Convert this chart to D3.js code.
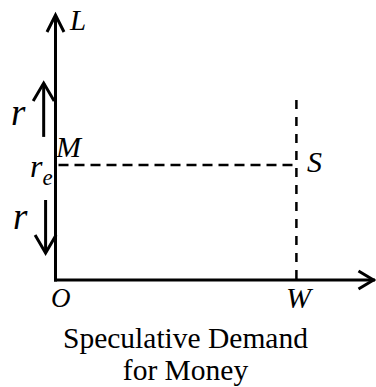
<!DOCTYPE html>
<html>
<head>
<meta charset="utf-8">
<script src="https://cdn.jsdelivr.net/npm/d3@7"></script>
<style>
  html, body { margin: 0; padding: 0; background: #fff; }
  svg { display: block; }
</style>
</head>
<body>
<svg id="chart" width="376" height="387"></svg>
<script>
// Speculative demand for money diagram

// levels in axis units (0..1 of each axis)
const wealthLevel = [0.754];        // W on the horizontal axis
const interestLevel = [0.434];      // r_e on the vertical axis
const dashTopLevel = [0.679];       // where the vertical dashed line stops
const rateArrows = [
  { x: -0.037, from: 0.54, to: 0.743 },   // r rising
  { x: -0.031, from: 0.302, to: 0.102 }   // r falling
];
const titleLines = ['Speculative Demand', 'for Money'];

const serif = "'Liberation Serif', 'DejaVu Serif', serif";

const svg = d3.select('#chart');

const xScale = d3.scaleLinear().domain([0, 1]).range([55.5, 375]);
const yScale = d3.scaleLinear().domain([0, 1]).range([280, 15]);

const ink = '#000';
const lineW = 3;

// axes
svg.append('line')
  .attr('x1', xScale(0)).attr('x2', xScale(0))
  .attr('y1', yScale(0) + 1.5).attr('y2', yScale(1))
  .attr('stroke', ink).attr('stroke-width', lineW);

svg.append('line')
  .attr('x1', xScale(0) - 1.5).attr('x2', xScale(1))
  .attr('y1', yScale(0)).attr('y2', yScale(0))
  .attr('stroke', ink).attr('stroke-width', lineW);

// open arrowheads
function chevron(tipX, tipY, dir, half, depth) {
  let d;
  if (dir === 'up') d = `M${tipX - half},${tipY + depth}L${tipX},${tipY}L${tipX + half},${tipY + depth}`;
  else if (dir === 'down') d = `M${tipX - half},${tipY - depth}L${tipX},${tipY}L${tipX + half},${tipY - depth}`;
  else d = `M${tipX - depth},${tipY - half}L${tipX},${tipY}L${tipX - depth},${tipY + half}`;
  svg.append('path')
    .attr('d', d)
    .attr('fill', 'none')
    .attr('stroke', ink)
    .attr('stroke-width', lineW)
    .attr('stroke-linejoin', 'miter');
}

chevron(xScale(0), yScale(1), 'up', 8.5, 17);
chevron(xScale(1) - 1.5, yScale(0), 'right', 9, 15);

// dashed guides
svg.append('line')
  .attr('x1', xScale(0) + 3).attr('x2', xScale(wealthLevel[0]))
  .attr('y1', yScale(interestLevel[0])).attr('y2', yScale(interestLevel[0]))
  .attr('stroke', ink).attr('stroke-width', 2.5)
  .attr('stroke-dasharray', '10,6');

svg.append('line')
  .attr('x1', xScale(wealthLevel[0])).attr('x2', xScale(wealthLevel[0]))
  .attr('y1', yScale(dashTopLevel[0])).attr('y2', yScale(0))
  .attr('stroke', ink).attr('stroke-width', 2.5)
  .attr('stroke-dasharray', '9,8');

// r arrows next to the vertical axis
rateArrows.forEach(a => {
  svg.append('line')
    .attr('x1', xScale(a.x)).attr('x2', xScale(a.x))
    .attr('y1', yScale(a.from)).attr('y2', yScale(a.to))
    .attr('stroke', ink).attr('stroke-width', lineW);
  chevron(xScale(a.x), yScale(a.to), a.to > a.from ? 'up' : 'down', 10.5, 18);
});

// labels
const labels = [
  { text: 'L', x: 70, y: 30, size: 29 },
  { text: 'r', x: 11, y: 125, size: 37 },
  { text: 'M', x: 56, y: 157, size: 30 },
  { text: 'r', x: 13, y: 229, size: 37 },
  { text: 'S', x: 307, y: 172, size: 30 },
  { text: 'O', x: 51, y: 307, size: 27 },
  { text: 'W', x: 286, y: 308, size: 30 }
];

svg.selectAll('text.lbl')
  .data(labels)
  .join('text')
  .attr('class', 'lbl')
  .attr('font-family', serif)
  .attr('font-style', 'italic')
  .attr('x', d => d.x)
  .attr('y', d => d.y)
  .attr('font-size', d => d.size)
  .text(d => d.text);

// r_e with subscript
const re = svg.append('text')
  .attr('font-family', serif)
  .attr('font-style', 'italic')
  .attr('x', 30)
  .attr('y', yScale(interestLevel[0]) + 12)
  .attr('font-size', 32);
re.append('tspan').text('r');
re.append('tspan').attr('font-size', 23).attr('dy', 8).text('e');

// caption
svg.selectAll('text.title')
  .data(titleLines)
  .join('text')
  .attr('class', 'title')
  .attr('font-family', serif)
  .attr('x', 185.5)
  .attr('y', (d, i) => 348 + i * 32)
  .attr('text-anchor', 'middle')
  .attr('font-size', 29.5)
  .text(d => d);
</script>
</body>
</html>
